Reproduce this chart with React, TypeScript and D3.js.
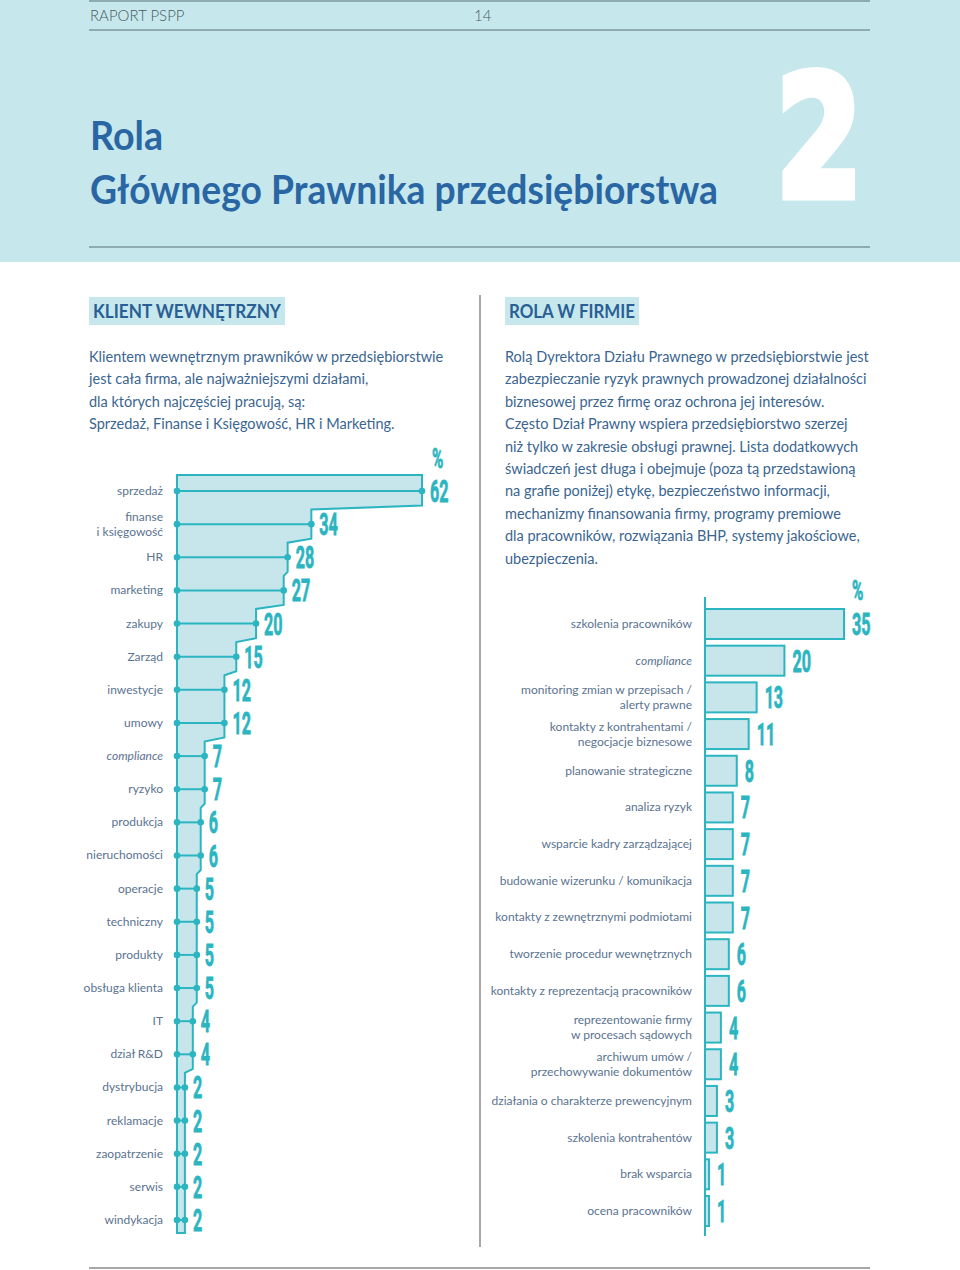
import React from "react";
import * as d3 from "d3";

const leftCategories = [
  "sprzedaż", "finanse\ni księgowość", "HR", "marketing", "zakupy", "Zarząd", "inwestycje", "umowy",
  "compliance", "ryzyko", "produkcja", "nieruchomości", "operacje", "techniczny", "produkty",
  "obsługa klienta", "IT", "dział R&D", "dystrybucja", "reklamacje", "zaopatrzenie", "serwis", "windykacja",
];
const leftValues = [62, 34, 28, 27, 20, 15, 12, 12, 7, 7, 6, 6, 5, 5, 5, 5, 4, 4, 2, 2, 2, 2, 2];

const rightCategories = [
  "szkolenia pracowników", "compliance", "monitoring zmian w przepisach /\nalerty prawne",
  "kontakty z kontrahentami /\nnegocjacje biznesowe", "planowanie strategiczne", "analiza ryzyk",
  "wsparcie kadry zarządzającej", "budowanie wizerunku / komunikacja", "kontakty z zewnętrznymi podmiotami",
  "tworzenie procedur wewnętrznych", "kontakty z reprezentacją pracowników",
  "reprezentowanie firmy\nw procesach sądowych", "archiwum umów /\nprzechowywanie dokumentów",
  "działania o charakterze prewencyjnym", "szkolenia kontrahentów", "brak wsparcia", "ocena pracowników",
];
const rightValues = [35, 20, 13, 11, 8, 7, 7, 7, 7, 6, 6, 4, 4, 3, 3, 1, 1];

const leftParagraph = [
  "Klientem wewnętrznym prawników w przedsiębiorstwie",
  "jest cała firma, ale najważniejszymi działami,",
  "dla których najczęściej pracują, są:",
  "Sprzedaż, Finanse i Księgowość, HR i Marketing.",
];
const rightParagraph = [
  "Rolą Dyrektora Działu Prawnego w przedsiębiorstwie jest",
  "zabezpieczanie ryzyk prawnych prowadzonej działalności",
  "biznesowej przez firmę oraz ochrona jej interesów.",
  "Często Dział Prawny wspiera przedsiębiorstwo szerzej",
  "niż tylko w zakresie obsługi prawnej. Lista dodatkowych",
  "świadczeń jest długa i obejmuje (poza tą przedstawioną",
  "na grafie poniżej) etykę, bezpieczeństwo informacji,",
  "mechanizmy finansowania firmy, programy premiowe",
  "dla pracowników, rozwiązania BHP, systemy jakościowe,",
  "ubezpieczenia.",
];

const TEAL = "#2bb5c1";
const FILL = "#c7e6eb";
const BAND = "#c6e8ec";
const TITLE = "#2966a3";
const LABEL = "#5a7390";
const PARA = "#3a6590";
const FONT = "Lato, 'Open Sans', sans-serif";
const NUMFONT = "Roboto, sans-serif";

function Num({ x, y, text, size, sx }: { x: number; y: number; text: string; size: number; sx: number }) {
  return (
    <text
      transform={`translate(${x},${y}) scale(${sx},1)`}
      fontFamily={NUMFONT}
      fontWeight={700}
      fontSize={size}
      fill={TEAL}
      stroke={TEAL}
      strokeWidth={0.8}
    >
      {text}
    </text>
  );
}

function Label({ x, y, text, size, gap }: { x: number; y: number; text: string; size: number; gap: number }) {
  const lines = text.split("\n");
  const italic = text === "compliance";
  const y0 = y - ((lines.length - 1) * gap) / 2 + size * 0.33;
  return (
    <text
      x={x}
      textAnchor="end"
      fontFamily={FONT}
      fontSize={size}
      fill={LABEL}
      fontStyle={italic ? "italic" : "normal"}
    >
      {lines.map((l, i) => (
        <tspan key={i} x={x} y={y0 + i * gap}>
          {l}
        </tspan>
      ))}
    </text>
  );
}

export default function App() {
  // Left chart scales
  const lx = d3.scaleLinear().domain([0, 62]).range([177, 422]);
  const ly = d3.scalePoint<string>().domain(leftCategories).range([491, 1220]);
  // Right chart scales
  const rx = d3.scaleLinear().domain([0, 35]).range([705, 844]);
  const ry = d3.scalePoint<string>().domain(rightCategories).range([624, 1211]);

  // Step outline polygon for left chart
  const pts: [number, number][] = [];
  const n = leftValues.length;
  const firstY = ly(leftCategories[0])!;
  const lastY = ly(leftCategories[n - 1])!;
  pts.push([lx(0), firstY - 16]);
  pts.push([lx(leftValues[0]), firstY - 16]);
  for (let i = 0; i < n - 1; i++) {
    const yA = ly(leftCategories[i])!;
    const yB = ly(leftCategories[i + 1])!;
    const b = (yA + yB) / 2;
    if (leftValues[i] !== leftValues[i + 1]) {
      pts.push([lx(leftValues[i]), b - 2]);
      pts.push([lx(leftValues[i + 1]), b + 2]);
    }
  }
  pts.push([lx(leftValues[n - 1]), lastY + 13]);
  pts.push([lx(0), lastY + 13]);
  const outline = d3.line()(pts) + "Z";

  const rowH = 30;

  return (
    <div style={{ position: "absolute", left: 0, top: 0 }}>
      <svg width={960} height={1270} style={{ display: "block", background: "#fff" }}>
        {/* header band */}
        <rect x={0} y={0} width={960} height={262} fill={BAND} />
        <line x1={89} x2={870} y1={1} y2={1} stroke="#7d979d" strokeWidth={1.5} />
        <line x1={89} x2={870} y1={30} y2={30} stroke="#7d979d" strokeWidth={1.5} />
        <line x1={89} x2={870} y1={247} y2={247} stroke="#7d979d" strokeWidth={1.5} />
        <text x={90} y={21} fontFamily={FONT} fontWeight={300} fontSize={15} fill="#4a5a60">RAPORT PSPP</text>
        <text x={474} y={21} fontFamily={FONT} fontWeight={300} fontSize={15} fill="#4a5a60">14</text>
        <text x={90} y={150} fontFamily={FONT} fontWeight={700} fontSize={40} fill={TITLE} textLength={73} lengthAdjust="spacingAndGlyphs">Rola</text>
        <text x={90} y={204} fontFamily={FONT} fontWeight={700} fontSize={40} fill={TITLE} textLength={628} lengthAdjust="spacingAndGlyphs">Głównego Prawnika przedsiębiorstwa</text>
        <text transform="translate(776,196) scale(0.74,1)" fontFamily="'DejaVu Sans', sans-serif" fontWeight={700} fontSize={168} fill="#ffffff" stroke="#ffffff" strokeWidth={9} strokeLinejoin="miter">2</text>

        {/* section headers */}
        <rect x={89} y={297} width={196} height={28} fill={BAND} />
        <text x={93} y={318} fontFamily={FONT} fontWeight={700} fontSize={18} fill="#2a5e95" textLength={188} lengthAdjust="spacingAndGlyphs">KLIENT WEWNĘTRZNY</text>
        <rect x={505} y={297} width={134} height={28} fill={BAND} />
        <text x={509} y={318} fontFamily={FONT} fontWeight={700} fontSize={18} fill="#2a5e95" textLength={126} lengthAdjust="spacingAndGlyphs">ROLA W FIRMIE</text>

        {/* divider */}
        <line x1={480} x2={480} y1={295} y2={1247} stroke="#a8a8a8" strokeWidth={2} />
        <line x1={89} x2={870} y1={1268} y2={1268} stroke="#8a8a8a" strokeWidth={1.5} />

        {/* paragraphs */}
        {leftParagraph.map((t, i) => (
          <text key={"lp" + i} x={89} y={362 + i * 22.4} fontFamily={FONT} fontSize={14.5} fill={PARA}>{t}</text>
        ))}
        {rightParagraph.map((t, i) => (
          <text key={"rp" + i} x={505} y={362 + i * 22.4} fontFamily={FONT} fontSize={14.5} fill={PARA}>{t}</text>
        ))}

        {/* left chart */}
        <path d={outline} fill={FILL} stroke={TEAL} strokeWidth={2} strokeLinejoin="miter" />
        {leftCategories.map((c, i) => {
          const y = ly(c)!;
          const x1 = lx(leftValues[i]);
          return (
            <g key={"l" + i}>
              <line x1={lx(0)} x2={x1} y1={y} y2={y} stroke={TEAL} strokeWidth={2} />
              <circle cx={lx(0)} cy={y} r={3.3} fill={TEAL} />
              <circle cx={x1} cy={y} r={3.3} fill={TEAL} />
              <Num x={x1 + 8} y={y + 11} text={String(leftValues[i])} size={31} sx={0.52} />
              <Label x={163} y={y} text={c} size={12} gap={15} />
            </g>
          );
        })}
        <Num x={432} y={468} text="%" size={28} sx={0.55} />

        {/* right chart */}
        {rightCategories.map((c, i) => {
          const y = ry(c)!;
          const x1 = rx(rightValues[i]);
          return (
            <g key={"r" + i}>
              <rect x={rx(0)} y={y - rowH / 2} width={x1 - rx(0)} height={rowH} fill={FILL} stroke={TEAL} strokeWidth={2} />
              <Num x={x1 + 8} y={y + 11} text={String(rightValues[i])} size={31} sx={0.52} />
              <Label x={692} y={y} text={c} size={12} gap={15} />
            </g>
          );
        })}
        <line x1={rx(0)} x2={rx(0)} y1={597} y2={1236} stroke={TEAL} strokeWidth={2} />
        <Num x={852} y={600} text="%" size={28} sx={0.55} />
      </svg>
    </div>
  );
}
